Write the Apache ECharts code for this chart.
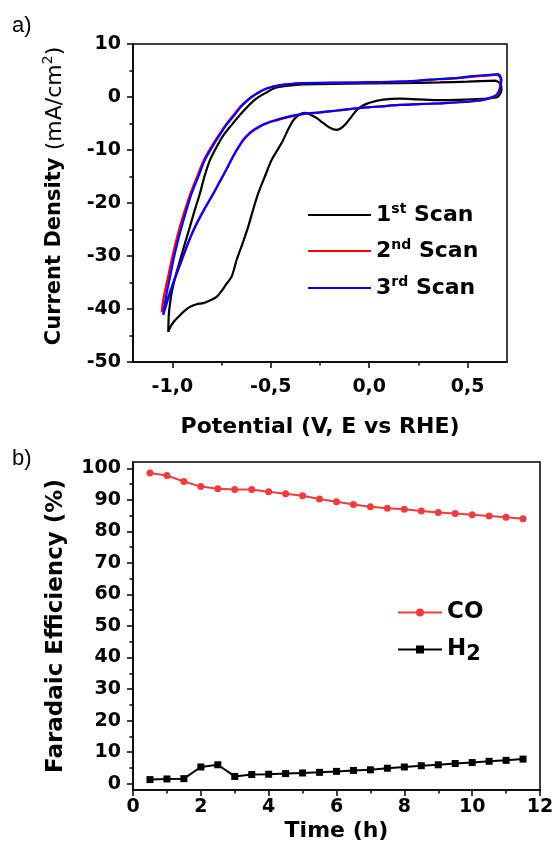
<!DOCTYPE html>
<html><head><meta charset="utf-8">
<script src="https://cdn.jsdelivr.net/npm/echarts@6/dist/echarts.min.js"></script>
<style>html,body{margin:0;padding:0;background:#fff}#c{width:553px;height:853px}</style>
</head><body><div id="c"></div>
<script>
// ---------- Panel a) cyclic voltammetry: [potential V, current density mA/cm2] ----------
const scan1 = [
[0.646,3.1],[0.668,2.4],[0.672,1.3],[0.660,0.3],[0.646,-0.1],[0.578,-0.35],[0.45,-0.55],[0.358,-0.6],
[0.25,-0.45],[0.155,-0.3],[0.071,-0.5],[0.02,-0.9],[-0.014,-1.3],[-0.04,-1.8],[-0.064,-2.5],[-0.09,-3.7],
[-0.115,-4.9],[-0.14,-5.8],[-0.166,-6.2],[-0.20,-5.8],[-0.234,-4.9],[-0.27,-3.9],[-0.302,-3.3],[-0.325,-3.0],
[-0.344,-3.1],[-0.365,-3.6],[-0.386,-4.4],[-0.41,-6.0],[-0.437,-8.1],[-0.466,-10.0],[-0.496,-11.9],[-0.53,-15.0],
[-0.564,-18.2],[-0.59,-21.3],[-0.615,-24.5],[-0.645,-27.8],[-0.674,-30.8],[-0.699,-33.9],[-0.724,-35.2],[-0.75,-36.6],
[-0.775,-37.7],[-0.81,-38.4],[-0.843,-38.9],[-0.877,-39.1],[-0.911,-39.6],[-0.94,-40.4],[-0.97,-41.5],[-0.995,-42.5],
[-1.010,-43.4],[-1.021,-44.3],[-1.020,-43.0],[-1.018,-41.0],[-1.012,-39.0],[-1.004,-37.0],[-0.984,-33.8],[-0.961,-30.8],
[-0.936,-27.6],[-0.911,-24.5],[-0.886,-21.3],[-0.860,-18.2],[-0.837,-15.0],[-0.809,-11.9],[-0.766,-8.8],[-0.742,-7.3],
[-0.70,-5.3],[-0.657,-3.4],[-0.615,-1.7],[-0.572,-0.25],[-0.52,0.9],[-0.479,1.7],[-0.42,2.1],[-0.335,2.4],
[-0.115,2.5],[0.138,2.6],[0.358,2.75],[0.50,2.9],[0.646,3.1]
];
const scan2 = [
[0.655,4.2],[0.668,3.3],[0.665,2.1],[0.657,1.0],[0.636,0.1],[0.606,-0.3],[0.575,-0.6],[0.50,-0.9],
[0.40,-1.1],[0.355,-1.2],[0.25,-1.35],[0.155,-1.5],[0.05,-1.8],[0.003,-1.9],[-0.08,-2.2],[-0.166,-2.6],
[-0.25,-2.9],[-0.336,-3.25],[-0.42,-3.9],[-0.47,-4.4],[-0.521,-5.0],[-0.565,-5.8],[-0.600,-6.7],[-0.637,-8.1],
[-0.670,-9.9],[-0.699,-11.8],[-0.726,-13.7],[-0.76,-16.1],[-0.792,-18.3],[-0.84,-21.4],[-0.885,-24.6],[-0.92,-27.6],
[-0.953,-30.9],[-0.985,-34.0],[-1.015,-37.0],[-1.040,-39.6],[-1.054,-40.6],[-1.050,-39.2],[-1.040,-37.0],[-1.022,-34.0],
[-1.004,-30.8],[-0.984,-27.6],[-0.962,-24.5],[-0.936,-21.3],[-0.908,-18.2],[-0.874,-15.0],[-0.840,-11.9],[-0.802,-9.4],
[-0.766,-7.3],[-0.732,-5.4],[-0.694,-3.6],[-0.652,-1.7],[-0.607,-0.2],[-0.56,0.9],[-0.521,1.6],[-0.454,2.2],
[-0.40,2.45],[-0.335,2.6],[-0.2,2.65],[-0.115,2.7],[0.0,2.75],[0.138,2.85],[0.25,3.05],[0.358,3.35],
[0.45,3.55],[0.527,3.85],[0.60,4.05],[0.655,4.2]
];
const scan3 = [
[0.659,4.3],[0.672,3.2],[0.668,2.2],[0.663,1.3],[0.645,0.3],[0.629,0.06],[0.578,-0.57],[0.50,-0.9],
[0.40,-1.1],[0.358,-1.2],[0.25,-1.35],[0.155,-1.5],[0.05,-1.8],[0.003,-1.9],[-0.08,-2.2],[-0.166,-2.55],
[-0.25,-2.9],[-0.336,-3.2],[-0.42,-3.8],[-0.47,-4.3],[-0.521,-4.9],[-0.565,-5.7],[-0.602,-6.6],[-0.639,-8.0],
[-0.670,-9.8],[-0.699,-11.7],[-0.724,-13.6],[-0.76,-16.0],[-0.792,-18.2],[-0.84,-21.3],[-0.885,-24.5],[-0.92,-27.5],
[-0.953,-30.8],[-0.985,-34.0],[-1.012,-37.0],[-1.035,-39.7],[-1.046,-41.1],[-1.040,-39.5],[-1.029,-37.0],[-1.012,-34.0],
[-0.995,-30.8],[-0.975,-27.6],[-0.953,-24.5],[-0.928,-21.3],[-0.902,-18.2],[-0.868,-15.0],[-0.835,-11.9],[-0.797,-9.4],
[-0.762,-7.3],[-0.728,-5.4],[-0.691,-3.7],[-0.65,-1.8],[-0.606,-0.25],[-0.56,0.9],[-0.521,1.6],[-0.454,2.25],
[-0.40,2.45],[-0.335,2.6],[-0.2,2.7],[-0.115,2.7],[0.0,2.8],[0.138,2.9],[0.25,3.1],[0.358,3.4],
[0.45,3.6],[0.527,3.95],[0.60,4.15],[0.659,4.3]
];
const potentialTicks = [-1.0, -0.5, 0.0, 0.5];
const potentialMinorTicks = [-0.75, -0.25, 0.25];
const scanNames = ['1st Scan', '2nd Scan', '3rd Scan'];

// ---------- Panel b) faradaic efficiency vs time ----------
const timeH = [0.5,1,1.5,2,2.5,3,3.5,4,4.5,5,5.5,6,6.5,7,7.5,8,8.5,9,9.5,10,10.5,11,11.5];
const coFE  = [98.5,97.7,95.8,94.2,93.5,93.3,93.3,92.6,91.9,91.3,90.3,89.4,88.5,87.8,87.3,87.0,86.5,86.0,85.7,85.3,84.9,84.5,84.0];
const h2FE  = [1.3,1.5,1.6,5.3,6.0,2.3,2.9,3.0,3.2,3.4,3.6,3.9,4.2,4.4,4.9,5.3,5.7,6.0,6.4,6.7,7.1,7.4,7.8];
const feTicks = [0,10,20,30,40,50,60,70,80,90,100];
const feMinorTicks = [5,15,25,35,45,55,65,75,85,95];

const FONT = 'DejaVu Sans';
const tickFont = {fontFamily: FONT, fontWeight: 'bold', fontSize: 19, color: '#000'};
const axisLine = {show: true, onZero: false, lineStyle: {color: '#000', width: 1.5}};
const hiddenLine = {show: false, onZero: false};
const tickStyle = {color: '#000', width: 1.5};

const pairs = (xs, ys) => xs.map((x, i) => [x, ys[i]]);

function mkCvLegend(name, top, fmt) {
  return {data: [{name: name, icon: 'rect'}], left: 308, top: top, orient: 'vertical', padding: 0,
    itemWidth: 63, itemHeight: 2.2, selectedMode: false, formatter: () => fmt,
    textStyle: {color: '#000', rich: {
      n: {fontFamily: FONT, fontWeight: 'bold', fontSize: 22, color: '#000', lineHeight: 26},
      sup: {fontFamily: FONT, fontWeight: 'bold', fontSize: 14, color: '#000', verticalAlign: 'top', lineHeight: 14}
    }}};
}
function mkFeLegend(name, top, fmt) {
  return {data: [name], left: 397, top: top, orient: 'vertical', padding: 0, itemWidth: 44, itemHeight: 10,
    selectedMode: false, formatter: () => fmt,
    textStyle: {color: '#000', rich: {
      n: {fontFamily: FONT, fontWeight: 'bold', fontSize: 23, color: '#000', lineHeight: 32, verticalAlign: 'middle'},
      sub: {fontFamily: FONT, fontWeight: 'bold', fontSize: 21, color: '#000', lineHeight: 22, verticalAlign: 'bottom'}
    }}};
}

const option = {
  animation: false,
  backgroundColor: '#fff',
  grid: [
    {left: 133, top: 44, width: 374, height: 318, show: true, borderColor: '#000', borderWidth: 1.5, outerBoundsMode: 'none'},
    {left: 133, top: 462, width: 407, height: 328, show: true, borderColor: '#000', borderWidth: 1.5, outerBoundsMode: 'none'}
  ],
  xAxis: [
    {gridIndex: 0, type: 'value', min: -1.2, max: 0.7, position: 'bottom',
     axisLine: axisLine, splitLine: {show: false},
     axisTick: {show: true, customValues: potentialTicks, length: 6, lineStyle: tickStyle},
     axisLabel: Object.assign({customValues: potentialTicks, margin: 16,
       formatter: v => v.toFixed(1).replace('.', ',')}, tickFont),
     name: 'Potential (V, E vs RHE)', nameLocation: 'middle', nameGap: 54,
     nameTextStyle: {fontFamily: FONT, fontWeight: 'bold', fontSize: 22, color: '#000'}},
    {gridIndex: 0, type: 'value', min: -1.2, max: 0.7, position: 'bottom', offset: 0,
     axisLine: hiddenLine, splitLine: {show: false}, axisLabel: {show: false},
     axisTick: {show: true, customValues: potentialMinorTicks, length: 3.5, lineStyle: tickStyle}},
    {gridIndex: 1, type: 'value', min: 0, max: 12, interval: 2, position: 'bottom',
     axisLine: axisLine, splitLine: {show: false},
     axisTick: {show: true, length: 6, lineStyle: tickStyle},
     minorTick: {show: true, splitNumber: 2, length: 3.5, lineStyle: tickStyle},
     axisLabel: Object.assign({margin: 8}, tickFont),
     name: 'Time (h)', nameLocation: 'middle', nameGap: 30,
     nameTextStyle: {fontFamily: FONT, fontWeight: 'bold', fontSize: 22, color: '#000'}}
  ],
  yAxis: [
    {gridIndex: 0, type: 'value', min: -50, max: 10, interval: 10, position: 'left',
     axisLine: axisLine, splitLine: {show: false},
     axisTick: {show: true, length: 6, lineStyle: tickStyle},
     minorTick: {show: true, splitNumber: 2, length: 3.5, lineStyle: tickStyle},
     axisLabel: Object.assign({margin: 12}, tickFont),
     name: '{b|Current Density }{s|(mA/cm}{sup|2}{s|)}', nameLocation: 'middle', nameGap: 64, nameRotate: 90,
     nameTextStyle: {color: '#000', padding: [0, 0, 0, 14], rich: {
       b: {fontFamily: FONT, fontWeight: 'bold', fontSize: 21, color: '#000', lineHeight: 28},
       s: {fontFamily: FONT, fontWeight: 'normal', fontSize: 22, color: '#000', lineHeight: 28},
       sup: {fontFamily: FONT, fontWeight: 'normal', fontSize: 14, color: '#000', verticalAlign: 'top', lineHeight: 14}
     }}},
    {gridIndex: 1, type: 'value', min: -2, max: 102, position: 'left',
     axisLine: axisLine, splitLine: {show: false},
     axisTick: {show: true, customValues: feTicks, length: 6, lineStyle: tickStyle},
     axisLabel: Object.assign({customValues: feTicks, margin: 12}, tickFont),
     name: 'Faradaic Efficiency (%)', nameLocation: 'middle', nameGap: 65, nameRotate: 90,
     nameTextStyle: {fontFamily: FONT, fontWeight: 'bold', fontSize: 23, color: '#000'}},
    {gridIndex: 1, type: 'value', min: -2, max: 102, position: 'left', offset: 0,
     axisLine: hiddenLine, splitLine: {show: false}, axisLabel: {show: false},
     axisTick: {show: true, customValues: feMinorTicks, length: 3.5, lineStyle: tickStyle}}
  ],
  legend: [
    mkCvLegend(scanNames[0], 202, '{n|1}{sup|st}{n| Scan}'),
    mkCvLegend(scanNames[1], 238, '{n|2}{sup|nd}{n| Scan}'),
    mkCvLegend(scanNames[2], 275, '{n|3}{sup|rd}{n| Scan}'),
    mkFeLegend('CO', 601, '{n|CO}'),
    mkFeLegend('H2', 638, '{n|H}{sub|2}')
  ],
  graphic: [
    {type: 'text', left: 12, top: 15, style: {text: 'a)', font: 'normal 22px "Liberation Sans"', fill: '#000'}},
    {type: 'text', left: 12, top: 448, style: {text: 'b)', font: 'normal 22px "Liberation Sans"', fill: '#000'}}
  ],
  series: [
    {name: scanNames[0], type: 'line', xAxisIndex: 0, yAxisIndex: 0, data: scan1, symbol: 'none', smooth: 0.3,
     lineStyle: {color: '#000', width: 2.2}, itemStyle: {color: '#000'}},
    {name: scanNames[1], type: 'line', xAxisIndex: 0, yAxisIndex: 0, data: scan2, symbol: 'none', smooth: 0.3,
     lineStyle: {color: '#ff0000', width: 2.2}, itemStyle: {color: '#ff0000'}},
    {name: scanNames[2], type: 'line', xAxisIndex: 0, yAxisIndex: 0, data: scan3, symbol: 'none', smooth: 0.3,
     lineStyle: {color: '#0000ff', width: 2.2}, itemStyle: {color: '#0000ff'}},
    {name: 'CO', type: 'line', xAxisIndex: 2, yAxisIndex: 1, data: pairs(timeH, coFE), symbol: 'circle', symbolSize: 7,
     lineStyle: {color: '#f03c3c', width: 2}, itemStyle: {color: '#f03c3c'}},
    {name: 'H2', type: 'line', xAxisIndex: 2, yAxisIndex: 1, data: pairs(timeH, h2FE), symbol: 'rect', symbolSize: 7,
     lineStyle: {color: '#000', width: 2}, itemStyle: {color: '#000'}}
  ]
};

const chart = echarts.init(document.getElementById('c'), null, {renderer: 'canvas'});
chart.setOption(option);
</script></body></html>
